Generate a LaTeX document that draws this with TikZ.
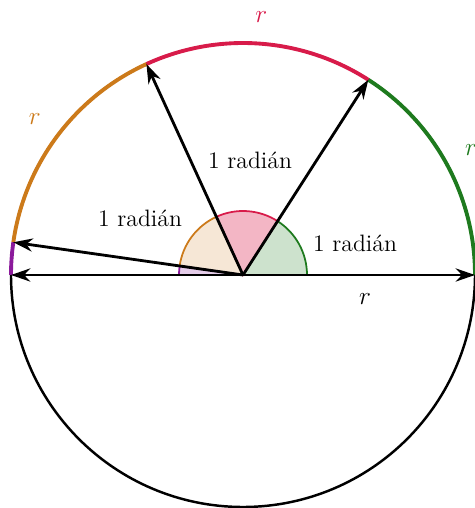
\documentclass[tikz,border=0pt]{standalone}
\usepackage{tikz}
\usetikzlibrary{arrows.meta}
\definecolor{arcgreen}{HTML}{1E7A1E}
\definecolor{arccrimson}{HTML}{D81B4A}
\definecolor{arcorange}{HTML}{CC7A1A}
\definecolor{arcpurple}{HTML}{8B1A9B}
\tikzset{
  arcline/.style={draw=#1, line width=2.2pt},
  wedge/.style={draw=#1, fill=#1!22, line width=1pt},
  ray/.style={-{Stealth[length=11pt,width=7.5pt]}, line width=1.6pt},
  lbl/.style={font=\fontsize{13.5}{16}\selectfont},
}

\begin{document}
\begin{tikzpicture}
  \useasboundingbox (-4.86,-4.66) rectangle (4.64,5.5);
  \def\R{4.64}
  \def\rw{1.28}

  \coordinate (O) at (0,0);
  \coordinate (p0) at (0:\R);
  \coordinate (p1) at (57.2958:\R);
  \coordinate (p2) at (114.5916:\R);
  \coordinate (p3) at (171.8873:\R);
  \coordinate (p4) at (180:\R);

  % small wedges
  \filldraw[wedge=arcgreen] (O) -- (0:\rw) arc[start angle=0, end angle=57.2958, radius=\rw] -- cycle;
  \filldraw[wedge=arccrimson, fill=arccrimson!32] (O) -- (57.2958:\rw) arc[start angle=57.2958, end angle=114.5916, radius=\rw] -- cycle;
  \filldraw[wedge=arcorange, fill=arcorange!18] (O) -- (114.5916:\rw) arc[start angle=114.5916, end angle=171.8873, radius=\rw] -- cycle;
  \filldraw[wedge=arcpurple] (O) -- (171.8873:\rw) arc[start angle=171.8873, end angle=180, radius=\rw] -- cycle;

  % circle and arcs of length r
  \draw[line width=1.4pt] (O) circle (\R);
  \draw[arcline=arcgreen] (p0) arc[start angle=0, end angle=57.2958, radius=\R];
  \draw[arcline=arccrimson] (p1) arc[start angle=57.2958, end angle=114.5916, radius=\R];
  \draw[arcline=arcorange] (p2) arc[start angle=114.5916, end angle=171.8873, radius=\R];
  \draw[arcline=arcpurple] (p3) arc[start angle=171.8873, end angle=180, radius=\R];

  % radii
  \draw[ray] (O) -- (p1);
  \draw[ray] (O) -- (p2);
  \draw[ray] (O) -- (p3);
  \draw[ray, {Stealth[length=11pt,width=7.5pt]}-{Stealth[length=11pt,width=7.5pt]}] (p4) -- (p0);

  % labels
  \node[lbl] (rbase) at (2.44,-0.48) {$r$};
  \node[lbl, text=arcgreen] (rgreen) at (28.65:5.2) {$r$};
  \node[lbl, text=arccrimson] (rcrimson) at (85.94:5.18) {$r$};
  \node[lbl, text=arcorange] (rorange) at (143.24:5.2) {$r$};
  \node[lbl] (rad1) at (2.24,0.64) {1 radián};
  \node[lbl] (rad2) at (0.14,2.3) {1 radián};
  \node[lbl] (rad3) at (-2.06,1.14) {1 radián};

\end{tikzpicture}
\end{document}
